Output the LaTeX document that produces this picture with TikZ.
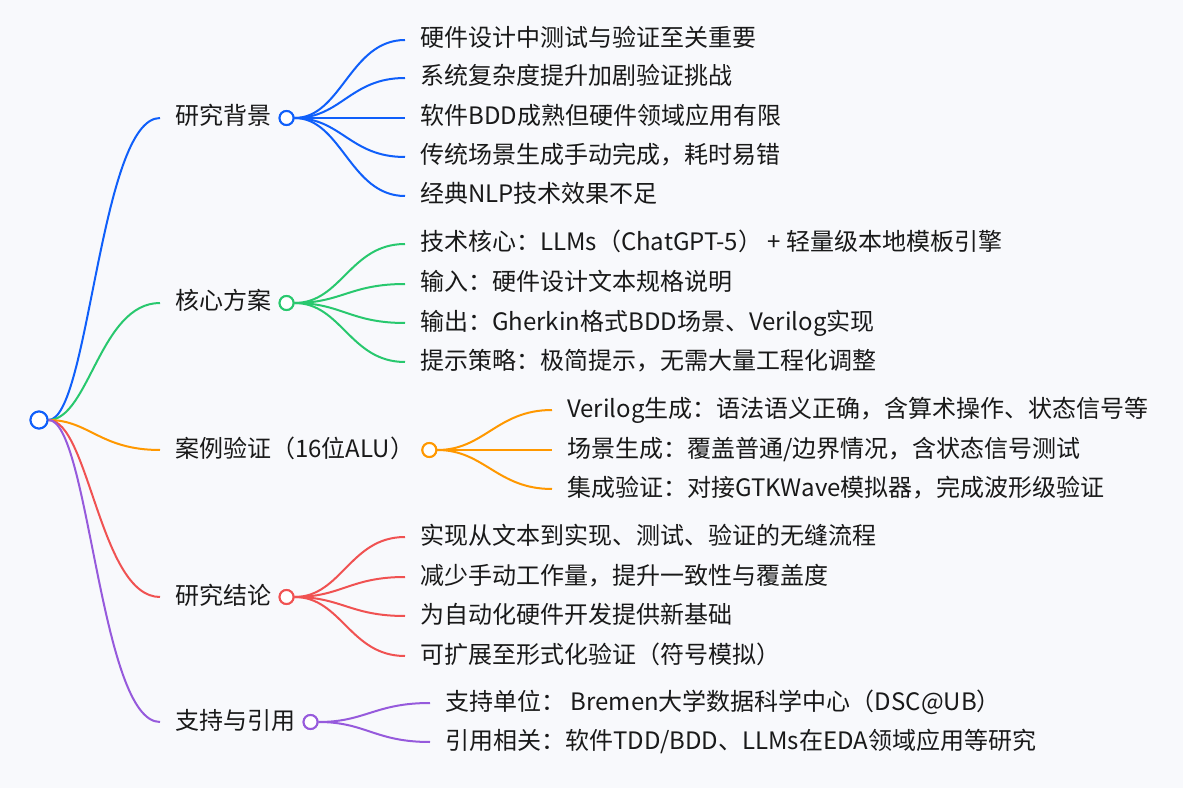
\documentclass[tikz,border=0pt]{standalone}
\usepackage{fontspec}
\setmainfont{Noto Sans CJK SC}
\usetikzlibrary{positioning}
\definecolor{bgcol}{RGB}{248,249,252}
\definecolor{inkcol}{RGB}{25,25,25}
\definecolor{mmblue}{RGB}{15,95,250}
\definecolor{mmgreen}{RGB}{40,200,110}
\definecolor{mmorange}{RGB}{255,152,0}
\definecolor{mmred}{RGB}{240,82,82}
\definecolor{mmpurple}{RGB}{150,90,220}
\tikzset{
    topic/.style = {
        anchor=west,
        text=inkcol,
        font=\fontsize{18}{22}\selectfont,
        inner xsep=11.25pt,
        inner ysep=0pt,
        text height=1.05em,
        text depth=0em,
        },
    leaf/.style = {
        topic,
        },
    dot/.style = {
        draw,
        circle,
        fill=white,
        line width=1.5pt,
        minimum size=10.5pt,
        inner sep=0pt,
        },
    root dot/.style = {
        dot,
        minimum size=12.75pt,
        },
    twig/.style = {
        line width=1.5pt,
        },
}
\begin{document}
\begin{tikzpicture}[x=0.75pt, y=-0.75pt]
            \fill[bgcol] (0,0) rectangle (1183,788);
            \useasboundingbox (0,0) rectangle (1183,788);

            \node[root dot, draw=mmblue] (root) at (39,420) {};

            % branches
            \node[topic] (bg) at (160,118) {研究背景};
            \node[topic] (plan) at (160,303) {核心方案};
            \node[topic] (case) at (160,450) {案例验证（16位ALU）};
            \node[topic] (concl) at (160,597) {研究结论};
            \node[topic] (supp) at (160,722) {支持与引用};

            \node[dot, draw=mmblue] (bgdot) at (bg.east) {};
            \node[dot, draw=mmgreen] (plandot) at (plan.east) {};
            \node[dot, draw=mmorange] (casedot) at (case.east) {};
            \node[dot, draw=mmred] (concldot) at (concl.east) {};
            \node[dot, draw=mmpurple] (suppdot) at (supp.east) {};

            % leaves
            \node[leaf] (bg1) at (405,40) {硬件设计中测试与验证至关重要};
            \node[leaf] (bg2) at (405,78) {系统复杂度提升加剧验证挑战};
            \node[leaf] (bg3) at (405,118) {软件BDD成熟但硬件领域应用有限};
            \node[leaf] (bg4) at (405,157) {传统场景生成手动完成，耗时易错};
            \node[leaf] (bg5) at (405,196) {经典NLP技术效果不足};

            \node[leaf] (plan1) at (405,244) {技术核心：LLMs（ChatGPT-5） + 轻量级本地模板引擎};
            \node[leaf] (plan2) at (405,284) {输入：硬件设计文本规格说明};
            \node[leaf] (plan3) at (405,323) {输出：Gherkin格式BDD场景、Verilog实现};
            \node[leaf] (plan4) at (405,362) {提示策略：极简提示，无需大量工程化调整};

            \node[leaf] (case1) at (552,410) {Verilog生成：语法语义正确，含算术操作、状态信号等};
            \node[leaf] (case2) at (552,450) {场景生成：覆盖普通/边界情况，含状态信号测试};
            \node[leaf] (case3) at (552,489) {集成验证：对接GTKWave模拟器，完成波形级验证};

            \node[leaf] (concl1) at (405,537) {实现从文本到实现、测试、验证的无缝流程};
            \node[leaf] (concl2) at (405,577) {减少手动工作量，提升一致性与覆盖度};
            \node[leaf] (concl3) at (405,616) {为自动化硬件开发提供新基础};
            \node[leaf] (concl4) at (405,656) {可扩展至形式化验证（符号模拟）};

            \node[leaf] (supp1) at (430,703) {支持单位：\ Bremen大学数据科学中心（DSC@UB）};
            \node[leaf] (supp2) at (430,742) {引用相关：软件TDD/BDD、LLMs在EDA领域应用等研究};

            % root to branches
            \draw[twig, mmblue] (root) .. controls +(50,0) and +(-60,0) .. (bg.west);
            \draw[twig, mmgreen] (root) .. controls +(50,0) and +(-60,0) .. (plan.west);
            \draw[twig, mmorange] (root) .. controls +(50,0) and +(-60,0) .. (case.west);
            \draw[twig, mmred] (root) .. controls +(50,0) and +(-60,0) .. (concl.west);
            \draw[twig, mmpurple] (root) .. controls +(50,0) and +(-60,0) .. (supp.west);

            % branches to leaves
            \draw[twig, mmblue] (bgdot) .. controls +(55,0) and +(-55,0) .. (bg1.west);
            \draw[twig, mmblue] (bgdot) .. controls +(55,0) and +(-55,0) .. (bg2.west);
            \draw[twig, mmblue] (bgdot) .. controls +(55,0) and +(-55,0) .. (bg3.west);
            \draw[twig, mmblue] (bgdot) .. controls +(55,0) and +(-55,0) .. (bg4.west);
            \draw[twig, mmblue] (bgdot) .. controls +(55,0) and +(-55,0) .. (bg5.west);

            \draw[twig, mmgreen] (plandot) .. controls +(55,0) and +(-55,0) .. (plan1.west);
            \draw[twig, mmgreen] (plandot) .. controls +(55,0) and +(-55,0) .. (plan2.west);
            \draw[twig, mmgreen] (plandot) .. controls +(55,0) and +(-55,0) .. (plan3.west);
            \draw[twig, mmgreen] (plandot) .. controls +(55,0) and +(-55,0) .. (plan4.west);

            \draw[twig, mmorange] (casedot) .. controls +(55,0) and +(-55,0) .. (case1.west);
            \draw[twig, mmorange] (casedot) .. controls +(55,0) and +(-55,0) .. (case2.west);
            \draw[twig, mmorange] (casedot) .. controls +(55,0) and +(-55,0) .. (case3.west);

            \draw[twig, mmred] (concldot) .. controls +(55,0) and +(-55,0) .. (concl1.west);
            \draw[twig, mmred] (concldot) .. controls +(55,0) and +(-55,0) .. (concl2.west);
            \draw[twig, mmred] (concldot) .. controls +(55,0) and +(-55,0) .. (concl3.west);
            \draw[twig, mmred] (concldot) .. controls +(55,0) and +(-55,0) .. (concl4.west);

            \draw[twig, mmpurple] (suppdot) .. controls +(55,0) and +(-55,0) .. (supp1.west);
            \draw[twig, mmpurple] (suppdot) .. controls +(55,0) and +(-55,0) .. (supp2.west);

            % redraw dots on top of the lines
            \node[root dot, draw=mmblue] at (root) {};
            \node[dot, draw=mmblue] at (bgdot) {};
            \node[dot, draw=mmgreen] at (plandot) {};
            \node[dot, draw=mmorange] at (casedot) {};
            \node[dot, draw=mmred] at (concldot) {};
            \node[dot, draw=mmpurple] at (suppdot) {};
\end{tikzpicture}
\end{document}
